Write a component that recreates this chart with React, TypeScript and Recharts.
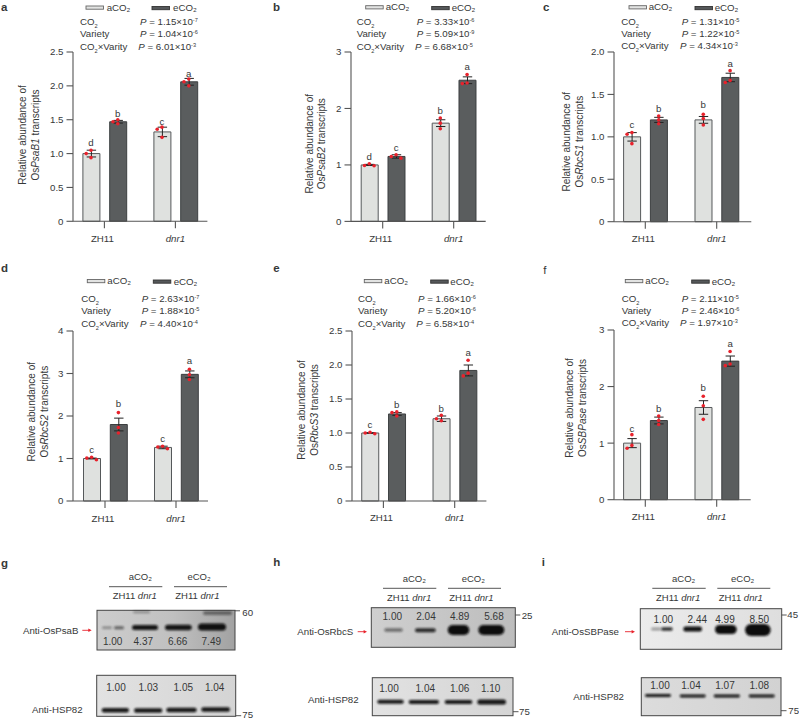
import React from "react";
import { Bar, ComposedChart, ErrorBar, Scatter, XAxis, YAxis } from "recharts";

const groups = ["ZH11", "dnr1"];

// panel a
const aAmbient = [1.0, 1.32];
const aElevated = [1.47, 2.06];
const aAmbientErr = [0.05, 0.07];
const aElevatedErr = [0.02, 0.05];
const aAmbientDots = [[1.05, 1.0, 0.94], [1.39, 1.36, 1.24]];
const aElevatedDots = [[1.5, 1.47, 1.44], [2.1, 2.06, 2.0]];
const aLetters = ["d", "b", "c", "a"];
const aLetterY = [1.16, 1.58, 1.47, 2.18];
const aPvals = ["1.15×10|-7", "1.04×10|-6", "6.01×10|-3"];

// panel b
const bAmbient = [1.0, 1.74];
const bElevated = [1.15, 2.5];
const bAmbientErr = [0.01, 0.06];
const bElevatedErr = [0.03, 0.06];
const bAmbientDots = [[0.985, 1.02, 0.99], [1.83, 1.74, 1.64]];
const bElevatedDots = [[1.18, 1.12, 1.15], [2.6, 2.44, 2.45]];
const bLetters = ["d", "c", "b", "a"];
const bLetterY = [1.14, 1.29, 1.95, 2.73];
const bPvals = ["3.33×10|-6", "5.09×10|-9", "6.68×10|-5"];

// panel c
const cAmbient = [1.0, 1.2];
const cElevated = [1.2, 1.7];
const cAmbientErr = [0.05, 0.04];
const cElevatedErr = [0.03, 0.05];
const cAmbientDots = [[1.05, 1.03, 0.92], [1.265, 1.215, 1.14]];
const cElevatedDots = [[1.245, 1.2, 1.155], [1.78, 1.665, 1.64]];
const cLetters = ["c", "b", "b", "a"];
const cLetterY = [1.135, 1.33, 1.37, 1.86];
const cPvals = ["1.31×10|-5", "1.22×10|-5", "4.34×10|-3"];

// panel d
const dAmbient = [1.0, 1.26];
const dElevated = [1.8, 2.98];
const dAmbientErr = [0.01, 0.03];
const dElevatedErr = [0.15, 0.08];
const dAmbientDots = [[0.97, 1.03, 1.01], [1.29, 1.23, 1.27]];
const dElevatedDots = [[2.08, 1.73, 1.6], [3.1, 2.97, 2.86]];
const dLetters = ["c", "b", "c", "a"];
const dLetterY = [1.19, 2.28, 1.45, 3.29];
const dPvals = ["2.63×10|-7", "1.88×10|-5", "4.40×10|-4"];

// panel e
const eAmbient = [1.0, 1.21];
const eElevated = [1.28, 1.92];
const eAmbientErr = [0.005, 0.04];
const eElevatedErr = [0.02, 0.08];
const eAmbientDots = [[0.99, 1.0, 1.01], [1.26, 1.21, 1.18]];
const eElevatedDots = [[1.31, 1.25, 1.3], [2.07, 1.88, 1.84]];
const eLetters = ["c", "b", "b", "a"];
const eLetterY = [1.115, 1.41, 1.345, 2.17];
const ePvals = ["1.66×10|-6", "5.20×10|-6", "6.58×10|-4"];

// panel f
const fAmbient = [1.0, 1.63];
const fElevated = [1.4, 2.45];
const fAmbientErr = [0.08, 0.12];
const fElevatedErr = [0.06, 0.09];
const fAmbientDots = [[1.15, 0.96, 0.91], [1.83, 1.66, 1.42]];
const fElevatedDots = [[1.48, 1.4, 1.33], [2.62, 2.4, 2.37]];
const fLetters = ["c", "b", "b", "a"];
const fLetterY = [1.25, 1.61, 1.97, 2.75];
const fPvals = ["2.11×10|-5", "2.46×10|-6", "1.97×10|-3"];

// blot densitometry labels
const gTop = ["1.00", "4.37", "6.66", "7.49"];
const gHsp = ["1.00", "1.03", "1.05", "1.04"];
const hTop = ["1.00", "2.04", "4.89", "5.68"];
const hHsp = ["1.00", "1.04", "1.06", "1.10"];
const iTop = ["1.00", "2.44", "4.99", "8.50"];
const iHsp = ["1.00", "1.04", "1.07", "1.08"];

const FONT = '"Liberation Sans", Arial, sans-serif';
const INK = "#363838";
const BAR_OFFSET = 13.4;
const DOT_STEP = 4.8;

type Frame = { axisX: number; endX: number; top: number; base: number; tick1: number; tick2: number };

const panels = [
  { id: "a", gene: ["Os", "PsaB1", ""], yMax: 2.5, yTicks: [0, 0.5, 1, 1.5, 2, 2.5], frame: { axisX: 73.3, endX: 207.7, top: 51.7, base: 221, tick1: 104.7, tick2: 175.7 }, ambient: aAmbient, elevated: aElevated, ambientErr: aAmbientErr, elevatedErr: aElevatedErr, ambientDots: aAmbientDots, elevatedDots: aElevatedDots, letters: aLetters, letterY: aLetterY, pvals: aPvals },
  { id: "b", gene: ["Os", "PsaB2", ""], yMax: 3, yTicks: [0, 1, 2, 3], frame: { axisX: 351, endX: 485.7, top: 52.3, base: 221.7, tick1: 382.7, tick2: 453.7 }, ambient: bAmbient, elevated: bElevated, ambientErr: bAmbientErr, elevatedErr: bElevatedErr, ambientDots: bAmbientDots, elevatedDots: bElevatedDots, letters: bLetters, letterY: bLetterY, pvals: bPvals },
  { id: "c", gene: ["Os", "RbcS1", ""], yMax: 2, yTicks: [0, 0.5, 1, 1.5, 2], frame: { axisX: 614, endX: 751.3, top: 52, base: 221.7, tick1: 645.3, tick2: 716.7 }, ambient: cAmbient, elevated: cElevated, ambientErr: cAmbientErr, elevatedErr: cElevatedErr, ambientDots: cAmbientDots, elevatedDots: cElevatedDots, letters: cLetters, letterY: cLetterY, pvals: cPvals },
  { id: "d", gene: ["Os", "RbcS2", ""], yMax: 4, yTicks: [0, 1, 2, 3, 4], frame: { axisX: 72.7, endX: 207.7, top: 330.7, base: 500.7, tick1: 104.7, tick2: 175.7 }, ambient: dAmbient, elevated: dElevated, ambientErr: dAmbientErr, elevatedErr: dElevatedErr, ambientDots: dAmbientDots, elevatedDots: dElevatedDots, letters: dLetters, letterY: dLetterY, pvals: dPvals },
  { id: "e", gene: ["Os", "RbcS3", ""], yMax: 2.5, yTicks: [0, 0.5, 1, 1.5, 2, 2.5], frame: { axisX: 352.3, endX: 486.7, top: 330.7, base: 500.7, tick1: 383.7, tick2: 455 }, ambient: eAmbient, elevated: eElevated, ambientErr: eAmbientErr, elevatedErr: eElevatedErr, ambientDots: eAmbientDots, elevatedDots: eElevatedDots, letters: eLetters, letterY: eLetterY, pvals: ePvals },
  { id: "f", gene: ["Os", "SBPase", ""], yMax: 3, yTicks: [0, 1, 2, 3], frame: { axisX: 614, endX: 750.7, top: 330, base: 499.7, tick1: 645.3, tick2: 716.7 }, ambient: fAmbient, elevated: fElevated, ambientErr: fAmbientErr, elevatedErr: fElevatedErr, ambientDots: fAmbientDots, elevatedDots: fElevatedDots, letters: fLetters, letterY: fLetterY, pvals: fPvals },
];

// prism style swarm: dots that would touch get pushed sideways
function swarm(values: number[], pxPerUnit: number) {
  const placed: { v: number; off: number }[] = [];
  [...values].sort((p, q) => q - p).forEach((v) => {
    const off = [0, -1, 1, -2, 2].find((c) =>
      placed.every((o) => Math.hypot((o.v - v) * pxPerUnit, (o.off - c * DOT_STEP)) >= 3.6),
    );
    placed.push({ v, off: (off ?? 0) * DOT_STEP });
  });
  return placed;
}

function XTick({ x, y, payload }: any) {
  const name = groups[payload.value - 1];
  const italic = name === "dnr1";
  return (
    <text x={italic ? x : x - 2} y={y + 13.5} textAnchor="middle" fontSize={9.7} fontFamily={FONT} fill={INK} fontStyle={italic ? "italic" : "normal"}>
      {name}
    </text>
  );
}

const RedDot = ({ cx, cy }: any) => <circle cx={cx} cy={cy} r={1.8} fill="#e8222c" />;

const LetterMark = ({ cx, cy, payload }: any) => (
  <text x={cx} y={cy} dy="0.3em" textAnchor="middle" fontSize={9.7} fontFamily={FONT} fill={INK}>
    {payload.letter}
  </text>
);

function Panel({ p }: { p: (typeof panels)[number] }) {
  const f: Frame = p.frame;
  const unit = f.tick2 - f.tick1;
  const pxPerUnit = (f.base - f.top) / p.yMax;
  const rows = groups.map((_, i) => ({
    x: i + 1,
    ambient: p.ambient[i],
    elevated: p.elevated[i],
    ambientErr: p.ambientErr[i],
    elevatedErr: p.elevatedErr[i],
  }));
  const dots: { x: number; v: number }[] = [];
  groups.forEach((_, i) => {
    swarm(p.ambientDots[i], pxPerUnit).forEach((d) => dots.push({ x: i + 1 + (d.off - BAR_OFFSET) / unit, v: d.v }));
    swarm(p.elevatedDots[i], pxPerUnit).forEach((d) => dots.push({ x: i + 1 + (d.off + BAR_OFFSET) / unit, v: d.v }));
  });
  const letterPts = p.letters.map((letter, k) => ({
    x: Math.floor(k / 2) + 1 + ((k % 2 ? 1 : -1) * BAR_OFFSET) / unit,
    v: p.letterY[k],
    letter,
  }));
  const domain: [number, number] = [1 - (f.tick1 - f.axisX) / unit, 2 + (f.endX - f.tick2) / unit];
  const axisStroke = { stroke: "#555", strokeWidth: 1.1 };
  return (
    <div style={{ position: "absolute", left: f.axisX - 40, top: f.top - 8 }}>
      <ComposedChart
        width={f.endX - f.axisX + 42}
        height={f.base - f.top + 38}
        data={rows}
        margin={{ top: 8, right: 2, left: 0, bottom: 0 }}
        barGap={9.8}
      >
        <XAxis
          dataKey="x"
          type="number"
          domain={domain}
          ticks={[1, 2]}
          interval={0}
          height={30}
          tickSize={7}
          tickMargin={0}
          axisLine={axisStroke}
          tickLine={axisStroke}
          tick={<XTick />}
        />
        {/* dots need their own axis, on the shared one they shrink the bar band */}
        <XAxis xAxisId="pts" dataKey="x" type="number" domain={domain} hide />
        <YAxis
          type="number"
          domain={[0, p.yMax]}
          ticks={p.yTicks}
          interval={0}
          width={40}
          tickSize={6.5}
          tickMargin={3}
          axisLine={axisStroke}
          tickLine={axisStroke}
          tick={{ fontSize: 9.7, fontFamily: FONT, fill: INK }}
          tickFormatter={(v: number) => (v === 0 ? "0" : p.yTicks.includes(0.5) ? v.toFixed(1) : String(v))}
        />
        <Bar dataKey="ambient" barSize={17} fill="#dfe1df" stroke="#55585a" strokeWidth={1} isAnimationActive={false}>
          <ErrorBar dataKey="ambientErr" width={4.7} stroke="#222" strokeWidth={1} isAnimationActive={false} />
        </Bar>
        <Bar dataKey="elevated" barSize={17} fill="#5a5d5e" stroke="#3c3f40" strokeWidth={1} isAnimationActive={false}>
          <ErrorBar dataKey="elevatedErr" width={4.7} stroke="#222" strokeWidth={1} isAnimationActive={false} />
        </Bar>
        <Scatter xAxisId="pts" data={dots} dataKey="v" shape={<RedDot />} isAnimationActive={false} />
        <Scatter xAxisId="pts" data={letterPts} dataKey="v" shape={<LetterMark />} isAnimationActive={false} />
      </ComposedChart>
    </div>
  );
}

function Txt({ x, y, size = 9.7, anchor = "start", weight, children }: any) {
  return (
    <text x={x} y={y} dy="0.35em" fontSize={size} fontFamily={FONT} fill={INK} textAnchor={anchor} fontWeight={weight}>
      {children}
    </text>
  );
}

function Pval({ x, y, text }: { x: number; y: number; text: string }) {
  const [main, exp] = text.split("|");
  return (
    <Txt x={x} y={y}>
      <tspan fontStyle="italic">P</tspan> = {main}
      <tspan fontSize={5.6} dy={-3}>{exp}</tspan>
    </Txt>
  );
}

function Co2({ x, y, suffix = "" }: { x: number; y: number; suffix?: string }) {
  return (
    <Txt x={x} y={y}>
      CO
      <tspan fontSize={5.6} dy={3}>2</tspan>
      <tspan dy={-3}>{suffix}</tspan>
    </Txt>
  );
}

function Swatch({ x, y, dark }: { x: number; y: number; dark?: boolean }) {
  return <rect x={x} y={y} width={17.5} height={3.2} fill={dark ? "#55585a" : "#e2e3e2"} stroke={dark ? "#333" : "#666"} strokeWidth={0.9} />;
}

// where each panel's legend, stats block and axis title sit
const notes = [
  { id: "a", idX: 1, idY: 7, legA: [86, 6], legE: [152, 6.5], txtA: [106.7, 7.3], txtE: [173, 8], co: 80, pX: 140, pX3: 138.3, rows: [21.7, 34, 46.3], lab: [22.7, 35.3, 135] },
  { id: "b", idX: 273, idY: 7, legA: [365.7, 5.7], legE: [431.7, 6.5], txtA: [385.7, 7], txtE: [451.7, 8], co: 356.7, pX: 416.7, pX3: 415, rows: [22, 34, 46.3], lab: [309.3, 321.7, 143.7] },
  { id: "c", idX: 543, idY: 7.3, legA: [629, 5.7], legE: [695, 6.5], txtA: [648.7, 7], txtE: [714.7, 8], co: 621.3, pX: 681.7, pX3: 680, rows: [21.7, 33.3, 46], lab: [566.7, 579.3, 141.7] },
  { id: "d", idX: 1, idY: 268.3, legA: [87.3, 279.5], legE: [153.3, 280], txtA: [107.3, 281], txtE: [173.7, 282], co: 81.3, pX: 141.7, pX3: 140, rows: [299, 311, 323.3], lab: [31, 44, 411.7] },
  { id: "e", idX: 273.3, idY: 268.3, legA: [364.3, 279.5], legE: [430.7, 280], txtA: [384.3, 281], txtE: [450.3, 282], co: 358, pX: 418, pX3: 416.3, rows: [299, 311, 323.3], lab: [301.7, 314.3, 410] },
  { id: "f", idX: 543.3, idY: 270, legA: [625.3, 279.5], legE: [691.7, 280], txtA: [645.3, 281], txtE: [711.7, 282], co: 621.7, pX: 681.7, pX3: 680, rows: [298.7, 311, 322.7], lab: [569.3, 582.3, 408] },
];

function PanelNotes({ n, p }: { n: (typeof notes)[number]; p: (typeof panels)[number] }) {
  const [l1, l2, cy] = n.lab;
  return (
    <g>
      <Txt x={n.idX} y={n.idY} size={11.5} weight={n.id === "f" ? "normal" : "bold"}>{n.id}</Txt>
      <Swatch x={n.legA[0]} y={n.legA[1]} />
      <Swatch x={n.legE[0]} y={n.legE[1]} dark />
      <Txt x={n.txtA[0]} y={n.txtA[1]}>aCO₂</Txt>
      <Txt x={n.txtE[0]} y={n.txtE[1]}>eCO₂</Txt>
      <Co2 x={n.co} y={n.rows[0]} />
      <Txt x={n.co} y={n.rows[1]}>Variety</Txt>
      <Co2 x={n.co} y={n.rows[2]} suffix="×Varity" />
      <Pval x={n.pX} y={n.rows[0]} text={p.pvals[0]} />
      <Pval x={n.pX} y={n.rows[1]} text={p.pvals[1]} />
      <Pval x={n.pX3} y={n.rows[2]} text={p.pvals[2]} />
      <g transform={`translate(${l1},${cy}) rotate(-90)`}>
        <Txt x={0} y={0} size={10} anchor="middle">Relative abundance of</Txt>
      </g>
      <g transform={`translate(${l2},${cy}) rotate(-90)`}>
        <Txt x={0} y={0} size={10} anchor="middle">
          {p.gene[0]}
          <tspan fontStyle="italic">{p.gene[1]}</tspan> transcripts
        </Txt>
      </g>
    </g>
  );
}

function Band({ b }: { b: number[] }) {
  const [x0, x1, y, h, o] = b;
  return <rect x={x0} y={y - h / 2} width={x1 - x0} height={h} rx={h / 2} fill="#0c0c0c" opacity={o} filter="url(#soft)" />;
}

function Gel({ box, fillId, bands, nums, numX, numY }: any) {
  return (
    <g>
      <rect x={box[0]} y={box[1]} width={box[2] - box[0]} height={box[3] - box[1]} fill={`url(#${fillId})`} stroke="#444" strokeWidth={1} />
      {bands.map((b: number[], i: number) => <Band key={i} b={b} />)}
      {nums.map((t: string, i: number) => <Txt key={i} x={numX[i]} y={numY} size={10} anchor="middle">{t}</Txt>)}
    </g>
  );
}

function Blot({ c }: any) {
  const headY = c.lineY + 9;
  return (
    <g>
      <Txt x={c.labelX} y={c.id === "i" ? 562 : c.id === "h" ? 561.7 : 563.3} size={11.5} weight="bold">{c.id}</Txt>
      <Txt x={c.aMid} y={c.lineY - 10} size={9.5} anchor="middle">aCO₂</Txt>
      <Txt x={c.eMid} y={c.lineY - 10} size={9.5} anchor="middle">eCO₂</Txt>
      <line x1={c.aLine[0]} x2={c.aLine[1]} y1={c.lineY} y2={c.lineY} stroke="#444" strokeWidth={0.9} />
      <line x1={c.eLine[0]} x2={c.eLine[1]} y1={c.lineY} y2={c.lineY} stroke="#444" strokeWidth={0.9} />
      {c.headX.map((hx: number) => (
        <Txt key={hx} x={hx} y={headY} size={9.5}>
          ZH11 <tspan fontStyle="italic">dnr1</tspan>
        </Txt>
      ))}
      <Gel {...c.top} />
      <Gel {...c.hsp} />
      <Txt x={c.antiX} y={c.antiY} size={9.7}>{c.anti}</Txt>
      <line x1={c.arrow[0]} x2={c.arrow[1] - 2} y1={c.antiY} y2={c.antiY} stroke="#e8222c" strokeWidth={0.9} />
      <path d={`M${c.arrow[1]} ${c.antiY} l-3.4 -1.8 v3.6 z`} fill="#e8222c" />
      <Txt x={c.hspX} y={c.hspY} size={9.7}>Anti-HSP82</Txt>
      <line x1={c.top.box[2]} x2={c.top.box[2] + 5} y1={c.kdTick} y2={c.kdTick} stroke="#444" strokeWidth={0.9} />
      <Txt x={c.kdX} y={c.kdY} size={9.7}>{c.kd}</Txt>
      <line x1={c.hsp.box[2]} x2={c.hsp.box[2] + 5.5} y1={c.hspTick} y2={c.hspTick} stroke="#444" strokeWidth={0.9} />
      <Txt x={c.hspKdX} y={c.hspKdY} size={9.7}>75</Txt>
    </g>
  );
}

const blots = [
  {
    id: "g", labelX: 1, aMid: 140.3, eMid: 199, lineY: 586.7, aLine: [109, 162.3], eLine: [174, 227], headX: [112.7, 175.3],
    anti: "Anti-OsPsaB", antiX: 23, antiY: 630.3, arrow: [82.3, 91.7], hspX: 32, hspY: 709.3,
    kd: "60", kdX: 242.3, kdY: 612.3, kdTick: 610.8, hspTick: 715.7, hspKdX: 242.3, hspKdY: 715,
    top: { box: [97, 610.3, 235, 650], fillId: "gelG", numX: [112.7, 143.3, 177.7, 211.3], numY: 641, nums: gTop, bands: [[102, 112, 627.7, 2.5, 0.35], [114, 124, 627.7, 3, 0.55], [132, 158, 627.5, 5, 0.95], [165, 191.7, 627.5, 5.5, 0.95], [198, 226, 627, 7, 0.98], [203, 232, 613, 4, 0.45], [133, 150, 612, 2.5, 0.3]] },
    hsp: { box: [96.7, 675.3, 235.7, 716.3], fillId: "gelLight", numX: [116, 148.3, 183.3, 214.7], numY: 687.3, nums: gHsp, bands: [[101.7, 129, 710.3, 4.5, 0.95], [134, 162.3, 710.5, 4.5, 0.95], [166.3, 196.7, 710, 4.5, 0.95], [201.3, 230, 709.5, 4.5, 0.95]] },
  },
  {
    id: "h", labelX: 273.3, aMid: 414.3, eMid: 473.3, lineY: 588.3, aLine: [383, 436.3], eLine: [448, 501], headX: [387, 449.3],
    anti: "Anti-OsRbcS", antiX: 297.3, antiY: 631.7, arrow: [357.7, 367], hspX: 308, hspY: 700,
    kd: "25", kdX: 521.7, kdY: 615.3, kdTick: 615, hspTick: 711.7, hspKdX: 519, hspKdY: 711.3,
    top: { box: [371.3, 607.7, 515.3, 647.3], fillId: "gelH", numX: [392.3, 426, 459.7, 494], numY: 616.7, nums: hTop, bands: [[384.3, 402.7, 630, 3.5, 0.5], [415, 435.7, 630.3, 4, 0.85], [447.7, 469.3, 630, 10, 1], [478.3, 504.3, 630, 10, 1]] },
    hsp: { box: [372.3, 677.7, 513, 715.7], fillId: "gelLight", numX: [389, 425.3, 459.7, 490.7], numY: 688.3, nums: hHsp, bands: [[377.3, 403.7, 701.7, 4, 0.95], [408.7, 439, 702, 4, 0.95], [444.7, 472.3, 702, 4, 0.95], [477.3, 506, 702, 5, 0.95]] },
  },
  {
    id: "i", labelX: 541.7, aMid: 683.7, eMid: 742.7, lineY: 588.3, aLine: [652.3, 705.7], eLine: [717.3, 770.3], headX: [656, 718.7],
    anti: "Anti-OsSBPase", antiX: 551.7, antiY: 631.7, arrow: [625, 635], hspX: 573.3, hspY: 696.7,
    kd: "45", kdX: 787.3, kdY: 615, kdTick: 615, hspTick: 710.7, hspKdX: 788.3, hspKdY: 711,
    top: { box: [640.3, 608.7, 781.7, 649.3], fillId: "gelI", numX: [663.3, 697.3, 725, 759.3], numY: 619, nums: iTop, bands: [[651, 661, 629, 3, 0.35], [661, 672.7, 629, 3.5, 0.85], [683.3, 702, 629, 5, 0.98], [715, 736.7, 629.5, 9, 1], [745, 770.7, 630, 12, 1]] },
    hsp: { box: [641.3, 677.7, 781, 715.7], fillId: "gelHsp", numX: [660, 691, 725, 759.3], numY: 685.7, nums: iHsp, bands: [[645, 671, 695.5, 2.8, 0.95], [679.7, 705.7, 696, 2.8, 0.95], [713.7, 740, 696, 2.8, 0.95], [748.7, 774.7, 696, 2.8, 0.95]] },
  },
];

function Overlay() {
  return (
    <svg width={799} height={719} style={{ position: "absolute", left: 0, top: 0 }}>
      <defs>
        <filter id="soft" x="-20%" y="-80%" width="140%" height="260%">
          <feGaussianBlur stdDeviation="0.8" />
        </filter>
        <linearGradient id="gelG" x1="0" x2="1" y1="0" y2="0">
          <stop offset="0" stopColor="#cdcdcd" />
          <stop offset="0.55" stopColor="#c0c0c0" />
          <stop offset="1" stopColor="#a2a2a2" />
        </linearGradient>
        <linearGradient id="gelH" x1="0" x2="1" y1="0" y2="0">
          <stop offset="0" stopColor="#cfcfcf" />
          <stop offset="1" stopColor="#bdbdbd" />
        </linearGradient>
        <linearGradient id="gelI" x1="0" x2="1" y1="0" y2="0">
          <stop offset="0" stopColor="#ececec" />
          <stop offset="1" stopColor="#dedede" />
        </linearGradient>
        <linearGradient id="gelLight" x1="0" x2="1" y1="0" y2="0">
          <stop offset="0" stopColor="#e2e2e2" />
          <stop offset="1" stopColor="#d4d4d4" />
        </linearGradient>
        <linearGradient id="gelHsp" x1="0" x2="1" y1="0" y2="0">
          <stop offset="0" stopColor="#dcdcdc" />
          <stop offset="1" stopColor="#d2d2d2" />
        </linearGradient>
      </defs>
      {notes.map((n, i) => <PanelNotes key={n.id} n={n} p={panels[i]} />)}
      {blots.map((c) => <Blot key={c.id} c={c} />)}
    </svg>
  );
}

export default function App() {
  return (
    <div style={{ position: "absolute", left: 0, top: 0, width: 799, height: 719, background: "#fff", overflow: "hidden" }}>
      <Overlay />
      {panels.map((p) => <Panel key={p.id} p={p} />)}
    </div>
  );
}
